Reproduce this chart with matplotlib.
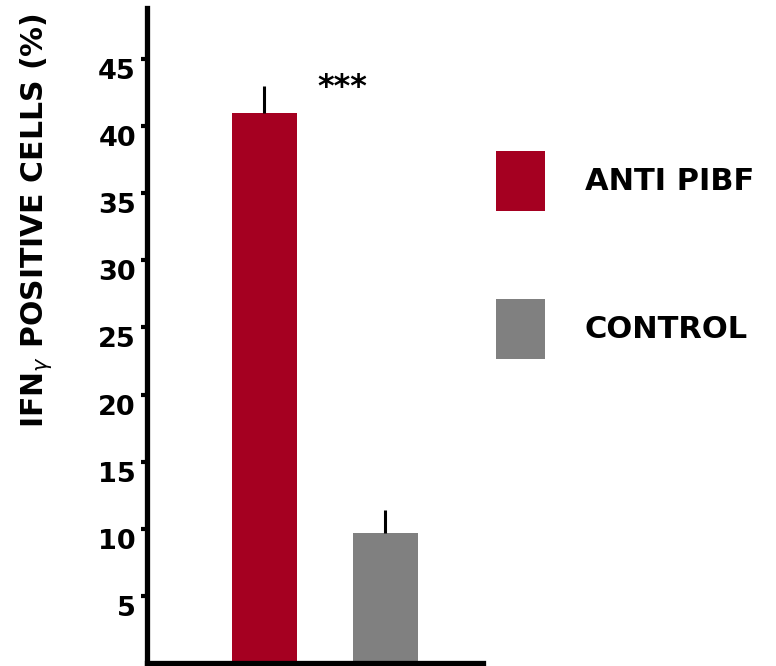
import matplotlib
matplotlib.use("Agg")
import matplotlib.pyplot as plt
from matplotlib.patches import Patch

# Data
groups = ["ANTI PIBF", "CONTROL"]
values = [41.0, 9.7]
errors = [2.0, 1.7]
colors = ["#A50021", "#808080"]
yticks = [5, 10, 15, 20, 25, 30, 35, 40, 45]
significance = "***"

plt.rcParams["font.family"] = ["DejaVu Sans"]
plt.rcParams["mathtext.fontset"] = "dejavusans"

W, H = 776, 666
fig = plt.figure(figsize=(W / 100, H / 100), dpi=100)
ax = fig.add_axes([147 / W, (H - 663) / H, (483 - 147) / W, (663 - 8) / H])

x = list(range(len(groups)))
ax.bar(x, values, width=0.545, color=colors, zorder=2)
ax.errorbar(x, values, yerr=[[0] * len(errors), errors], fmt="none",
            ecolor="black", elinewidth=2.2, capsize=0, zorder=3)

ax.text(0.64, 42.85, significance, ha="center", va="center",
        fontsize=23, fontweight="bold")

ax.set_xlim(-0.971, 1.806)
ax.set_ylim(0, 48.8)
ax.set_xticks([])
ax.set_yticks(yticks)
ax.set_yticklabels([str(t) for t in yticks], fontsize=19.5, fontweight="bold")
for lab in ax.get_yticklabels():
    lab.set_va("top")
ax.tick_params(axis="y", direction="out", length=4, width=3, pad=4)

for side in ("top", "right"):
    ax.spines[side].set_visible(False)
for side in ("left", "bottom"):
    ax.spines[side].set_linewidth(3.8)

ax.set_ylabel(r"IFN$_{\gamma}$ POSITIVE CELLS (%)", fontsize=21.5,
              fontweight="bold")
ax.yaxis.label.set_va("center")
ax.yaxis.set_label_coords((36 - 147) / 336, (663 - 221) / 655)

handles = [Patch(facecolor=c, edgecolor="none") for c in colors]
fig.legend(handles, groups, loc="upper left",
           bbox_to_anchor=(496 / W, (H - 151) / H),
           frameon=False, borderpad=0, borderaxespad=0,
           prop={"size": 22, "weight": "bold"},
           handlelength=1.6, handleheight=2.64, handletextpad=1.3,
           labelspacing=2.88)

fig.savefig("out.png", dpi=100)
